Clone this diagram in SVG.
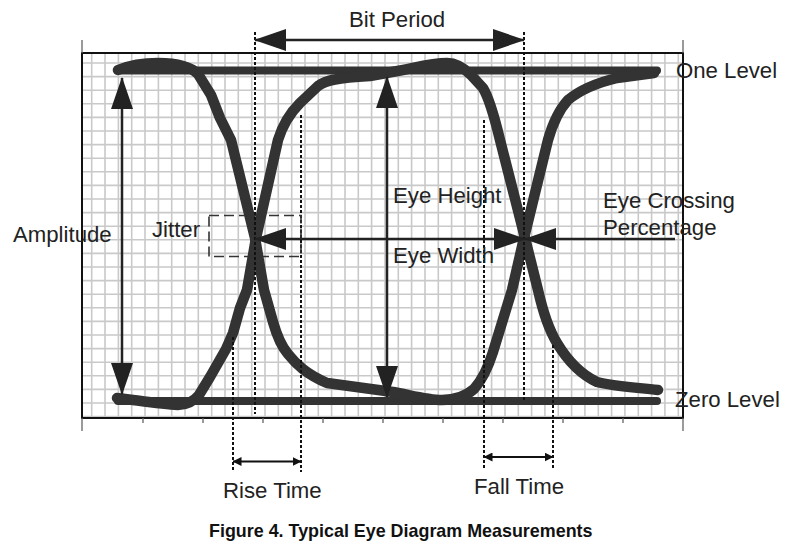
<svg xmlns="http://www.w3.org/2000/svg" width="801" height="559" viewBox="0 0 801 559">
<style>
.grid{stroke:#c9c9c9;stroke-width:1.6;fill:none}
.frame{stroke:#111;stroke-width:2;fill:none}
.tick{stroke:#666;stroke-width:1.3;fill:none}
.trace{stroke:#333;stroke-width:10.5;fill:none;stroke-linejoin:round;stroke-linecap:round}
.level{stroke:#333;stroke-width:8;fill:none;stroke-linecap:round}
.dot{stroke:#111;stroke-width:2;stroke-dasharray:3 2;fill:none}
.arr{stroke:#222;stroke-width:2.5;fill:none}
.sarr{stroke:#111;stroke-width:2;fill:none}
.jit{stroke:#333;stroke-width:1.6;stroke-dasharray:10 5;fill:none}
.lbl{font-family:"Liberation Sans",Arial,sans-serif;font-size:22.2px;fill:#222}
.cap{font-family:"Liberation Sans",Arial,sans-serif;font-size:17.9px;font-weight:bold;fill:#111}
</style>
<defs>
<marker id="big" markerUnits="userSpaceOnUse" markerWidth="32" markerHeight="22" refX="31" refY="11" orient="auto-start-reverse"><path d="M0,0 L32,11 L0,22 z" fill="#222"/></marker>
<marker id="small" markerUnits="userSpaceOnUse" markerWidth="9" markerHeight="9" refX="8.5" refY="4.5" orient="auto-start-reverse"><path d="M0,0 L9,4.5 L0,9 z" fill="#111"/></marker>
</defs>
<rect x="0" y="0" width="801" height="559" fill="#fff"/>
<g id="grid">
<path class="grid" d="M91.7 53V418M105 53V418M118.4 53V418M131.7 53V418M145 53V418M158.4 53V418M171.7 53V418M185 53V418M198.3 53V418M211.7 53V418M225 53V418M238.3 53V418M251.7 53V418M265 53V418M278.3 53V418M291.7 53V418M305 53V418M318.3 53V418M331.6 53V418M345 53V418M358.3 53V418M371.6 53V418M385 53V418M398.3 53V418M411.6 53V418M425 53V418M438.3 53V418M451.6 53V418M465 53V418M478.3 53V418M491.6 53V418M505 53V418M518.3 53V418M531.6 53V418M544.9 53V418M558.3 53V418M571.6 53V418M584.9 53V418M598.3 53V418M611.6 53V418M624.9 53V418M638.3 53V418M651.6 53V418M664.9 53V418M678.3 53V418"/>
<path class="grid" d="M82 63H683M82 76.6H683M82 90.2H683M82 103.8H683M82 117.4H683M82 131H683M82 144.6H683M82 158.2H683M82 171.8H683M82 185.4H683M82 199H683M82 212.6H683M82 226.2H683M82 239.8H683M82 253.4H683M82 267H683M82 280.6H683M82 294.2H683M82 307.8H683M82 321.4H683M82 335H683M82 348.6H683M82 362.2H683M82 375.8H683M82 389.4H683M82 403H683M82 416.6H683"/>
<rect class="frame" x="82" y="53" width="601" height="365"/>
<path class="tick" d="M82 40V53M683 40V53M82 418V431M683 418V431M143 418V423M203 418V423M263 418V423M323 418V423M383 418V423M443 418V423M503 418V423M563 418V423M623 418V423"/>
</g>
<g id="levels">
<line class="level" x1="118" y1="70.5" x2="657" y2="70.5"/>
<line class="level" x1="118" y1="401" x2="657" y2="401"/>
</g>
<g id="traces">
<path id="traceA" class="trace" d="M118,70 C128,66 142,63 158,63 C176,63 190,66 198,74 L211,95 L220,118 L231,140 L255,238 L264,290 L273,322 C277,336 281,346 288,354 C296,364 306,374 327,383 L393,392 C410,395 428,400 442,400 C456,400 466,396 474,389 C482,380 488,368 493,352 L512,290 L524,238 L548,140 C552,126 557,112 568,100 C580,90 596,83 617,78 L654,73"/>
<path id="traceB" class="trace" d="M117,398 C135,400 160,404 178,405 C188,405 194,401 199,395 L210,377 L226,349 L233,333 L240,308 L247,290 L256,238 L278,140 C282,127 289,114 300,103 L318,86 C326,80 338,78 370,76 L403,70 C418,67 432,63 447,63 C456,63 464,68 471,75 L483,88 C489,98 494,115 500,140 L525,238 L538,290 C543,312 549,330 557,343 C566,358 580,374 597,382 C612,386 630,387 658,390"/>
</g>
<g id="connectors">
<path class="dot" d="M255 32V414M524 32V402M233 337V472M301 115V472M484 120V468M553 345V468"/>
<line class="arr" x1="255" y1="40" x2="524" y2="40" stroke-width="3" marker-start="url(#big)" marker-end="url(#big)"/>
<line class="arr" x1="122" y1="78" x2="122" y2="394" marker-start="url(#big)" marker-end="url(#big)"/>
<line class="arr" x1="387" y1="77" x2="387" y2="397" marker-start="url(#big)" marker-end="url(#big)"/>
<line class="arr" x1="255" y1="239" x2="525" y2="239" marker-start="url(#big)" marker-end="url(#big)"/>
<line class="arr" x1="675" y1="239" x2="525" y2="239" marker-end="url(#big)"/>
<line class="sarr" x1="233" y1="461.5" x2="301" y2="461.5" marker-start="url(#small)" marker-end="url(#small)"/>
<line class="sarr" x1="484" y1="457" x2="553" y2="457" marker-start="url(#small)" marker-end="url(#small)"/>
<rect class="jit" x="209" y="215.5" width="92" height="41"/>
</g>
<g id="labels">
<text class="lbl" x="349" y="27">Bit Period</text>
<text class="lbl" x="676" y="78">One Level</text>
<text class="lbl" x="675" y="407">Zero Level</text>
<text class="lbl" x="13" y="242">Amplitude</text>
<text class="lbl" x="152" y="237">Jitter</text>
<text class="lbl" x="393" y="203">Eye Height</text>
<text class="lbl" x="393" y="263">Eye Width</text>
<text class="lbl" x="603" y="208">Eye Crossing</text>
<text class="lbl" x="603" y="235">Percentage</text>
<text class="lbl" x="223" y="498">Rise Time</text>
<text class="lbl" x="474" y="494">Fall Time</text>
<text class="cap" x="209" y="537">Figure 4. Typical Eye Diagram Measurements</text>
</g>
</svg>
